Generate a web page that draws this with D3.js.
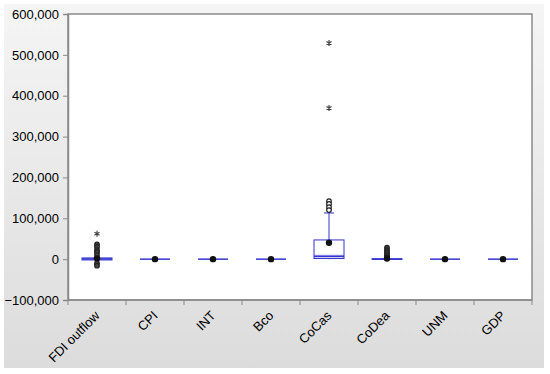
<!DOCTYPE html>
<html>
<head>
<meta charset="utf-8">
<script src="https://cdn.jsdelivr.net/npm/d3@7"></script>
<style>
  body { margin: 0; background: #fff; }
  text { font-family: "Liberation Sans", Arial, sans-serif; }
</style>
</head>
<body>
<svg id="chart" width="550" height="374"></svg>
<script>
const categories = ['FDI outflow', 'CPI', 'INT', 'Bco', 'CoCas', 'CoDea', 'UNM', 'GDP'];
const yTicks = [-100000, 0, 100000, 200000, 300000, 400000, 500000, 600000];

// box statistics per series
const q1 = [-2000, 0, 0, 0, 1500, -500, 0, 0];
const median = [500, 0, 0, 0, 7000, 0, 0, 0];
const q3 = [3000, 0, 0, 0, 47000, 1000, 0, 0];
const medianLo = [-1500, 0, 0, 0, 3500, 0, 0, 0];
const medianHi = [2500, 0, 0, 0, 11000, 0, 0, 0];
const whiskerLow = [-6000, 0, 0, 0, 0, -1000, 0, 0];
const whiskerHigh = [8000, 0, 0, 0, 113000, 2500, 0, 0];
const mean = [2000, 0, 0, 0, 40000, 1500, 0, 0];
const nearOutliers = [
    [36000, 30000, 22000, 17000, 10000, -10000, -16000],
    [], [], [],
    [142000, 135000, 127000, 120000],
    [28000, 22000, 17000, 12000, 8000, 4000],
    [], []
];
const farOutliers = [[62000], [], [], [], [529000, 370000], [], [], []];

const width = 550, height = 374;
const margin = {top: 14, right: 18, bottom: 74, left: 68};
const blue = '#3434d2';
const axisGray = '#8a8a8a';

const svg = d3.select('#chart');

const defs = svg.append('defs');
const grad = defs.append('linearGradient')
    .attr('id', 'bg')
    .attr('x1', 0).attr('y1', 0).attr('x2', 0).attr('y2', 1);
grad.append('stop').attr('offset', '0%').attr('stop-color', '#f5f5f5');
grad.append('stop').attr('offset', '100%').attr('stop-color', '#dcdcdc');

svg.append('rect')
    .attr('x', 4).attr('y', 4)
    .attr('width', 540).attr('height', 364)
    .attr('fill', 'url(#bg)');

const x = d3.scaleBand()
    .domain(categories)
    .range([margin.left, width - margin.right]);

const y = d3.scaleLinear()
    .domain([-100000, 600000])
    .range([height - margin.bottom, margin.top]);

// plot area
svg.append('rect')
    .attr('x', margin.left)
    .attr('y', margin.top)
    .attr('width', width - margin.left - margin.right)
    .attr('height', height - margin.top - margin.bottom)
    .attr('fill', '#fff')
    .attr('stroke', axisGray)
    .attr('stroke-width', 1.5);

// y axis
const yAxis = svg.append('g')
    .attr('transform', `translate(${margin.left},0)`)
    .call(d3.axisLeft(y).tickValues(yTicks).tickFormat(d3.format(',')).tickSize(5).tickPadding(4));
yAxis.select('.domain').attr('stroke', axisGray).attr('stroke-width', 1.5);
yAxis.selectAll('line').attr('stroke', axisGray);
yAxis.selectAll('text')
    .attr('fill', '#000')
    .style('font-size', '13px');

// x axis: ticks at band edges
const xAxis = svg.append('g')
    .attr('transform', `translate(0,${height - margin.bottom})`);
xAxis.append('line')
    .attr('x1', margin.left).attr('x2', width - margin.right)
    .attr('stroke', axisGray).attr('stroke-width', 1.5);
const edges = categories.map(function(c) { return x(c); }).concat([x.range()[1]]);
xAxis.selectAll('.edge')
    .data(edges)
    .enter()
    .append('line')
    .attr('x1', function(d) { return d; })
    .attr('x2', function(d) { return d; })
    .attr('y1', 0).attr('y2', 5)
    .attr('stroke', axisGray);
xAxis.selectAll('.lab')
    .data(categories)
    .enter()
    .append('text')
    .attr('text-anchor', 'end')
    .attr('transform', function(d) {
        return `translate(${x(d) + x.bandwidth() / 2 - 3},${10}) rotate(-45)`;
    })
    .style('font-size', '13px')
    .attr('dy', '0.7em')
    .text(function(d) { return d; });

// boxes
const boxW = 30;
const capW = 10;
const series = categories.map(function(c, i) { return {name: c, i: i}; });

const g = svg.append('g')
    .selectAll('g')
    .data(series)
    .enter()
    .append('g')
    .attr('transform', function(d) {
        return `translate(${x(d.name) + x.bandwidth() / 2},0)`;
    });

// whiskers
g.append('line')
    .attr('y1', function(d) { return y(whiskerLow[d.i]); })
    .attr('y2', function(d) { return y(q1[d.i]); })
    .attr('stroke', blue);
g.append('line')
    .attr('y1', function(d) { return y(q3[d.i]); })
    .attr('y2', function(d) { return y(whiskerHigh[d.i]); })
    .attr('stroke', blue);
g.filter(function(d) { return whiskerHigh[d.i] - q3[d.i] > 20000; })
    .append('line')
    .attr('x1', -capW / 2).attr('x2', capW / 2)
    .attr('y1', function(d) { return y(whiskerHigh[d.i]); })
    .attr('y2', function(d) { return y(whiskerHigh[d.i]); })
    .attr('stroke', blue);

// median confidence band
g.append('rect')
    .attr('x', -boxW / 2)
    .attr('width', boxW)
    .attr('y', function(d) { return y(medianHi[d.i]); })
    .attr('height', function(d) { return Math.max(y(medianLo[d.i]) - y(medianHi[d.i]), 0); })
    .attr('fill', '#c4c4f0');

// box
g.append('rect')
    .attr('x', -boxW / 2)
    .attr('width', boxW)
    .attr('y', function(d) { return y(q3[d.i]); })
    .attr('height', function(d) { return y(q1[d.i]) - y(q3[d.i]); })
    .attr('fill', 'none')
    .attr('stroke', blue);

// median
g.append('line')
    .attr('x1', -boxW / 2).attr('x2', boxW / 2)
    .attr('y1', function(d) { return y(median[d.i]); })
    .attr('y2', function(d) { return y(median[d.i]); })
    .attr('stroke', blue)
    .attr('stroke-width', 1.5);

// near outliers
g.selectAll('.near')
    .data(function(d) { return nearOutliers[d.i]; })
    .enter()
    .append('circle')
    .attr('r', 2.3)
    .attr('cy', function(v) { return y(v); })
    .attr('fill', function(v, j, nodes) { return Math.abs(v) < 40000 ? '#444' : '#fff'; })
    .attr('stroke', '#222')
    .attr('stroke-width', 1.2);

// far outliers (stars)
const star = d3.symbol().type(d3.symbolAsterisk || d3.symbolCross).size(24);
g.selectAll('.far')
    .data(function(d) { return farOutliers[d.i]; })
    .enter()
    .append('path')
    .attr('d', star)
    .attr('transform', function(v) { return `translate(0,${y(v)})`; })
    .attr('fill', 'none')
    .attr('stroke', '#444')
    .attr('stroke-width', 1.2);

// means
g.append('circle')
    .attr('r', 3.2)
    .attr('cy', function(d) { return y(mean[d.i]); })
    .attr('fill', '#111');
</script>
</body>
</html>
